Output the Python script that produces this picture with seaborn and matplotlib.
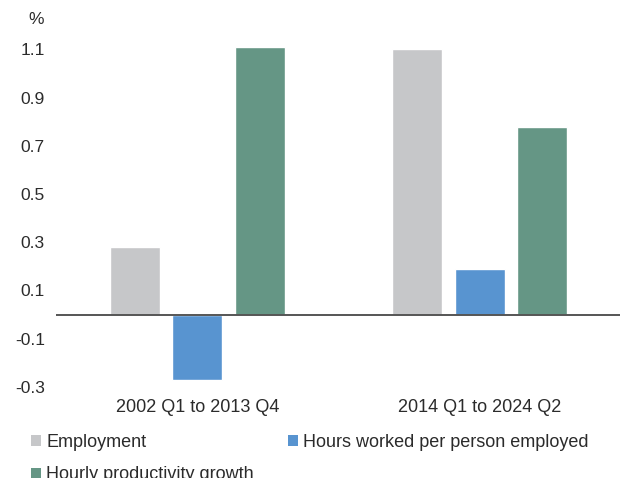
import matplotlib
matplotlib.use("Agg")
import matplotlib.pyplot as plt
import seaborn as sns
import pandas as pd
from matplotlib.patches import Patch

periods = ["2002 Q1 to 2013 Q4", "2014 Q1 to 2024 Q2"]
series = ["Employment", "Hours worked per person employed", "Hourly productivity growth"]
employment = [0.28, 1.10]
hours_per_person = [-0.27, 0.19]
hourly_productivity = [1.11, 0.78]
yticks = [-0.3, -0.1, 0.1, 0.3, 0.5, 0.7, 0.9, 1.1]
colors = ["#C6C7C9", "#5894D0", "#659685"]

df = pd.DataFrame({
    "period": periods * 3,
    "series": [series[0]] * 2 + [series[1]] * 2 + [series[2]] * 2,
    "value": employment + hours_per_person + hourly_productivity,
})

sns.set_theme(style="white")
plt.rcParams["font.family"] = ["Liberation Sans", "DejaVu Sans"]
text_color = "#2b2b2b"

fig = plt.figure(figsize=(6.2, 4.78), dpi=100)
ax = fig.add_axes([56 / 620, 1 - 386.8 / 478, 565 / 620, (386.8 - 37.4) / 478])

sns.barplot(data=df, x="period", y="value", hue="series", order=periods,
            hue_order=series, palette=colors, width=0.664, gap=0.2,
            saturation=1, legend=False, ax=ax)

ax.set_xlim(-0.5, 1.5)
ax.set_ylim(-0.3, 1.15)
ax.set_yticks(yticks)
ax.set_yticklabels([f"{t:.1f}" for t in yticks])
ax.axhline(0, color="#555555", lw=1.4, zorder=5)
for s in ax.spines.values():
    s.set_visible(False)
ax.set_xlabel("")
ax.set_ylabel("")
ax.tick_params(axis="y", length=0, pad=8, labelsize=12.5, labelcolor=text_color)
ax.tick_params(axis="x", length=0, pad=9, labelsize=13, labelcolor=text_color)
ax.grid(False)

fig.text(36 / 620, 1 - 20 / 478, "%", ha="center", va="center",
         fontsize=12.5, color=text_color)

handles = [Patch(facecolor=c, edgecolor="none") for c in colors]
order = [0, 2, 1]
fig.legend([handles[i] for i in order], [series[i] for i in order],
           ncol=2, loc="upper left", bbox_to_anchor=(31 / 620, 1 - 434 / 478),
           frameon=False, fontsize=13, labelcolor=text_color,
           handlelength=0.55, handleheight=0.55, handletextpad=0.3,
           labelspacing=0.85, columnspacing=1.87, borderpad=0, borderaxespad=0)

fig.savefig("out.png", dpi=100)
